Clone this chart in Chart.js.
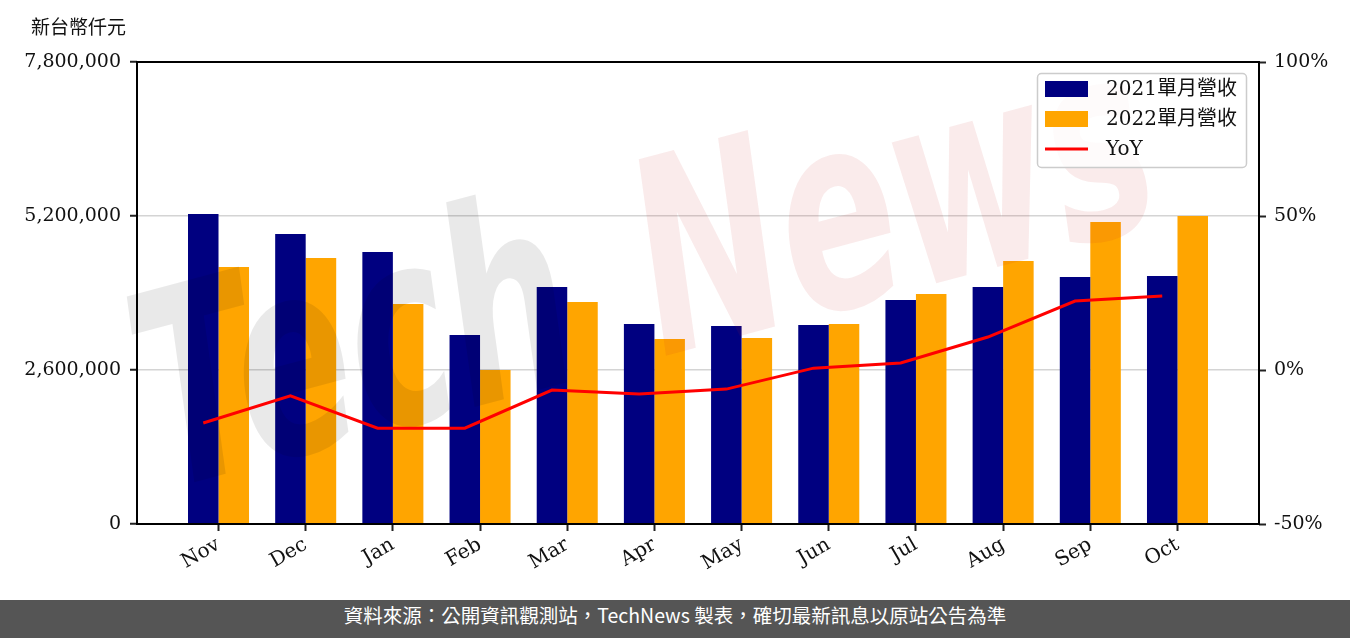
<!DOCTYPE html>
<html>
<head>
<meta charset="utf-8">
<script src="https://cdn.jsdelivr.net/npm/chart.js@4.4.0/dist/chart.umd.min.js"></script>
<style>
  body { margin: 0; background: #fff; }
  #wrap { width: 1350px; height: 638px; position: relative; overflow: hidden; }
  canvas { display: block; }
  #footer {
    position: absolute; left: 0; top: 600px; width: 1350px; height: 38px;
    background: #555; color: #fff; text-align: center; line-height: 38px;
    font: 19.5px "Noto Sans CJK TC", sans-serif;
  }
</style>
</head>
<body>
<div id="wrap">
  <canvas id="revChart" width="1350" height="600"></canvas>
  <div id="footer">資料來源：公開資訊觀測站，TechNews 製表，確切最新訊息以原站公告為準</div>
</div>
<script>
// monthly revenue, NT$ thousand
const months = ["Nov", "Dec", "Jan", "Feb", "Mar", "Apr", "May", "Jun", "Jul", "Aug", "Sep", "Oct"];
const rev2021 = [5234000, 4896000, 4592000, 3191000, 4001000, 3377000, 3343000, 3360000, 3782000, 4001000, 4170000, 4187000];
const rev2022 = [4339000, 4491000, 3714000, 2600000, 3748000, 3123000, 3140000, 3377000, 3883000, 4440000, 5099000, 5200000];
const yoy = [-17.2, -8.4, -18.9, -18.9, -6.5, -7.8, -6.2, 0.6, 2.3, 10.7, 22.4, 24.0];
const revTicks = [0, 2600000, 5200000, 7800000];
const yoyTicks = [-50, 0, 50, 100];

const SERIF = "'DejaVu Serif', 'Noto Sans CJK TC', serif";
const BAR_W = 0.35;
const tickFont = { family: SERIF, size: 19 };

function drawWatermark(ctx) {
  ctx.save();
  ctx.translate(165, 490);
  ctx.rotate(-15 * Math.PI / 180);
  ctx.scale(0.64, 1);
  ctx.font = "italic bold 270px 'DejaVu Sans'";
  ctx.textBaseline = "alphabetic";
  ctx.fillStyle = "rgba(0,0,0,0.085)";
  ctx.fillText("Tech", 0, 0);
  const w = ctx.measureText("Tech").width;
  ctx.fillStyle = "rgba(200,30,30,0.09)";
  ctx.fillText("News", w + 120, 0);
  ctx.restore();
}

function drawLegend(chart) {
  const ctx = chart.ctx;
  ctx.save();
  ctx.beginPath();
  ctx.roundRect(1037.5, 73.5, 209, 94, 4);
  ctx.fillStyle = "rgba(255,255,255,0.8)";
  ctx.fill();
  ctx.strokeStyle = "#cccccc";
  ctx.lineWidth = 1.5;
  ctx.stroke();

  const rows = [89, 119, 149];
  chart.data.datasets.forEach((ds, i) => {
    const y = rows[i];
    if (ds.type === "bar") {
      ctx.fillStyle = ds.backgroundColor;
      ctx.fillRect(1045, y - 8, 43, 16);
    } else {
      ctx.strokeStyle = ds.borderColor;
      ctx.lineWidth = 3;
      ctx.beginPath();
      ctx.moveTo(1045, y);
      ctx.lineTo(1088, y);
      ctx.stroke();
    }
    ctx.fillStyle = "#111";
    ctx.font = "20px " + SERIF;
    ctx.textBaseline = "middle";
    ctx.fillText(ds.label, 1106, y + 1);
  });
  ctx.restore();
}

const decor = {
  id: "decor",
  beforeDatasetDraw(chart, args) {
    if (args.index === 2) drawWatermark(chart.ctx);
  },
  afterDraw(chart) {
    const ctx = chart.ctx;
    const a = chart.chartArea;
    ctx.save();
    ctx.strokeStyle = "#000";
    ctx.lineWidth = 2;
    ctx.strokeRect(a.left, a.top, a.right - a.left, a.bottom - a.top);
    ctx.fillStyle = "#111";
    ctx.font = "19px 'Noto Sans CJK TC', sans-serif";
    ctx.textBaseline = "middle";
    ctx.fillText("新台幣仟元", 31, 27);
    ctx.restore();
    drawLegend(chart);
  }
};

new Chart(document.getElementById("revChart"), {
  data: {
    datasets: [
      {
        type: "bar",
        label: "2021單月營收",
        data: rev2021.map((v, i) => ({ x: i, y: v })),
        backgroundColor: "#000080",
        yAxisID: "y",
        categoryPercentage: BAR_W * 2,
        barPercentage: 1,
        order: 1
      },
      {
        type: "bar",
        label: "2022單月營收",
        data: rev2022.map((v, i) => ({ x: i, y: v })),
        backgroundColor: "#ffa500",
        yAxisID: "y",
        categoryPercentage: BAR_W * 2,
        barPercentage: 1,
        order: 1
      },
      {
        type: "line",
        label: "YoY",
        data: yoy.map((v, i) => ({ x: i - BAR_W / 2, y: v })),
        borderColor: "#ff0000",
        borderWidth: 3,
        pointRadius: 0,
        tension: 0,
        yAxisID: "y1",
        order: 0
      }
    ]
  },
  options: {
    responsive: false,
    animation: false,
    layout: { padding: { top: 62, left: 0, right: 0, bottom: 0 } },
    plugins: { legend: { display: false }, tooltip: { enabled: false } },
    scales: {
      x: {
        type: "linear",
        offset: false,
        min: -0.935,
        max: 11.935,
        afterBuildTicks: s => { s.ticks = months.map((m, i) => ({ value: i })); },
        afterFit: s => { s.height = 76; },
        border: { display: false },
        grid: { offset: false, drawOnChartArea: false, tickLength: 7, tickWidth: 2, tickColor: "#222" },
        ticks: {
          autoSkip: false, maxRotation: 30, minRotation: 30, padding: 2,
          color: "#111", font: { family: SERIF, size: 20 },
          callback: v => months[Math.round(v)]
        }
      },
      y: {
        position: "left",
        min: 0,
        max: 7800000,
        afterBuildTicks: s => { s.ticks = revTicks.map(v => ({ value: v })); },
        afterFit: s => { s.width = 137; },
        border: { display: false },
        grid: {
          color: c => (c.tick && c.tick.value > 0 && c.tick.value < 7800000) ? "#d4d4d4" : "rgba(0,0,0,0)",
          lineWidth: 1.5, tickLength: 7, tickWidth: 2, tickColor: "#222"
        },
        ticks: { padding: 9, color: "#111", font: tickFont, callback: v => v.toLocaleString("en-US") }
      },
      y1: {
        position: "right",
        min: -50,
        max: 100,
        afterBuildTicks: s => { s.ticks = yoyTicks.map(v => ({ value: v })); },
        afterFit: s => { s.width = 91; },
        border: { display: false },
        grid: { drawOnChartArea: false, tickLength: 7, tickWidth: 2, tickColor: "#222" },
        ticks: { padding: 8, color: "#111", font: tickFont, callback: v => v + "%" }
      }
    }
  },
  plugins: [decor]
});
</script>
</body>
</html>
